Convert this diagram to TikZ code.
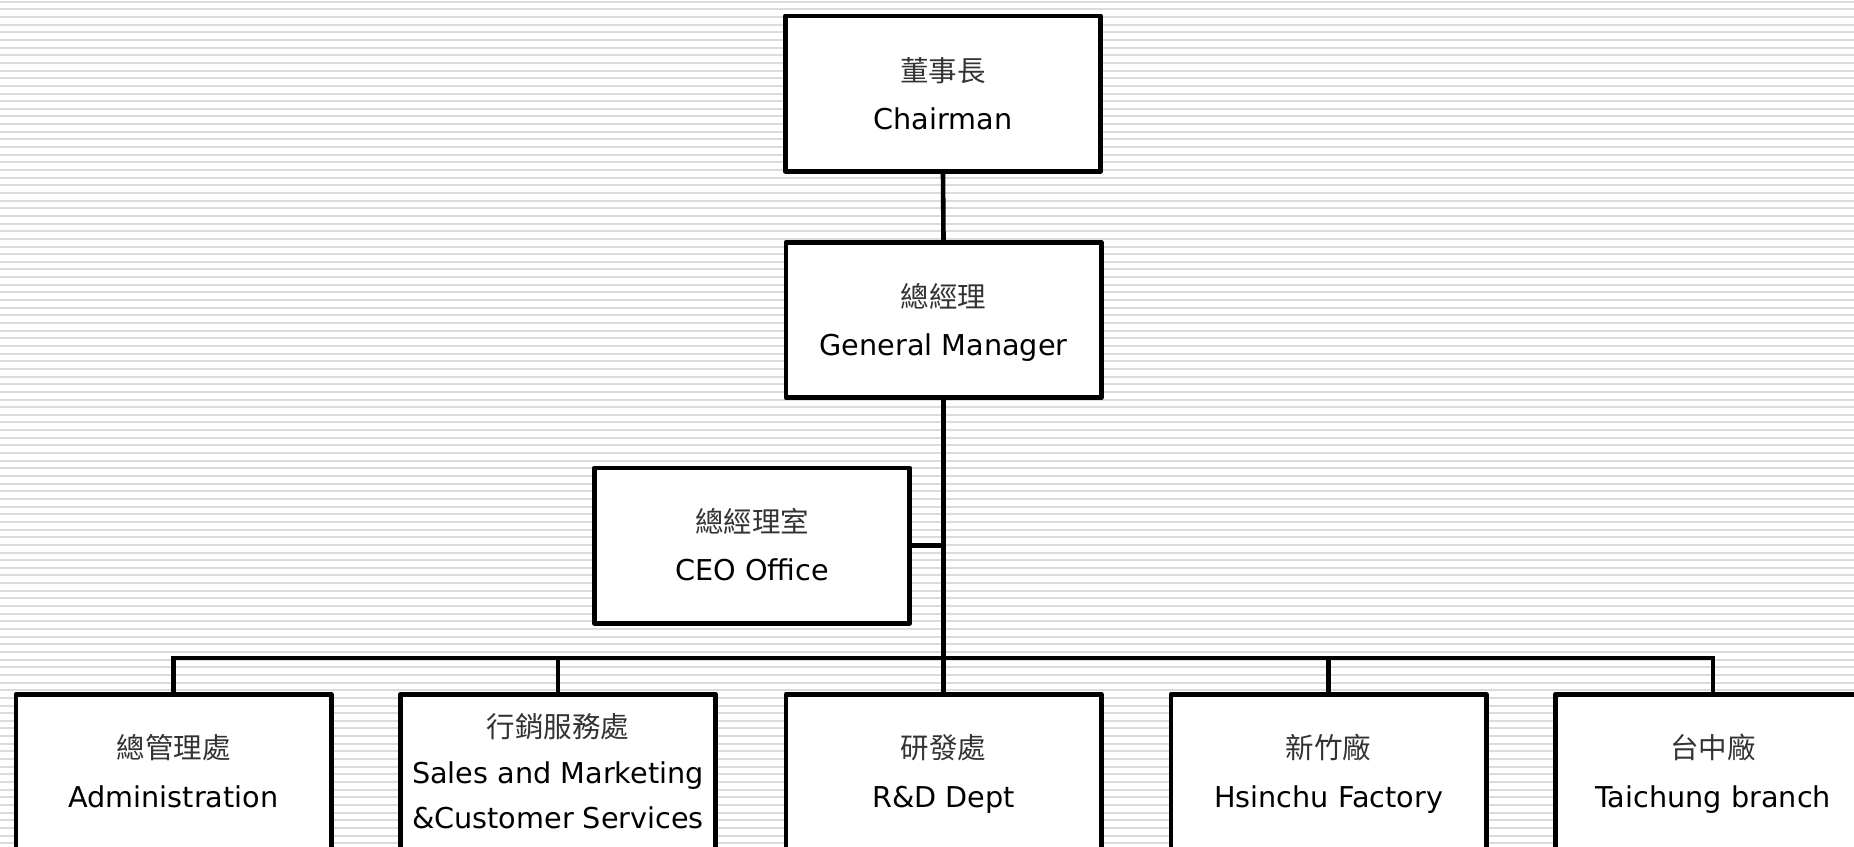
\documentclass[tikz,border=0pt]{standalone}
\usepackage{fontspec}
\setmainfont{DejaVu Sans}
\newfontfamily\cjk{Noto Sans CJK TC}
\usetikzlibrary{calc}
\tikzset{
  stripe/.style={draw=black!14, line width=2pt},
  orgbox/.style={draw=black, fill=white, line width=4.6pt, rectangle, minimum width=315.4pt, minimum height=155.4pt, inner sep=0pt, line join=round},
  conn/.style={draw=black, line width=4.6pt, line join=miter},
  cn/.style={anchor=base, inner sep=0pt, font=\cjk\fontsize{28.5}{34}\selectfont, text=black!80},
  en/.style={anchor=base, inner sep=0pt, font=\fontsize{28.7}{34}\selectfont, text=black}
}
\begin{document}
\begin{tikzpicture}[x=1pt, y=-1pt]
\useasboundingbox (0,0) rectangle (1854,846);
\clip (0,0) rectangle (1854,846);
\fill[white] (0,0) rectangle (1854,846);
\foreach \i in {0,...,111} {
  \draw[stripe] (0,{1.7+7.65*\i}) -- (1854,{1.7+7.65*\i});
}
% boxes
\node[orgbox] (chair) at (943,93.5) {};
\node[orgbox] (gm) at (943.5,320) {};
\node[orgbox] (ceo) at (752,545.5) {};
\node[orgbox] (admin) at (173.5,772) {};
\node[orgbox] (sales) at (558,772) {};
\node[orgbox] (rd) at (943.5,772) {};
\node[orgbox] (hsin) at (1328.5,772) {};
\node[orgbox] (taic) at (1713,772) {};
% connectors
\coordinate (busL) at (173.5,658);
\draw[conn] (chair.south) -- (gm.north);
\draw[conn] (gm.south) -- (rd.north);
\draw[conn] (ceo.east) -- (ceo.east -| gm.south);
\draw[conn] (admin.north) -- (admin.north |- busL) -- (taic.north |- busL) -- (taic.north);
\draw[conn] (sales.north) -- (sales.north |- busL);
\draw[conn] (hsin.north) -- (hsin.north |- busL);
% texts
\node[cn] (chairC) at ($(chair.center)+(0,-12)$) {董事長};
\node[en] (chairE) at ($(chair.center)+(0,36)$) {Chairman};
\node[cn] (gmC) at ($(gm.center)+(0,-13)$) {總經理};
\node[en] (gmE) at ($(gm.center)+(0,35)$) {General Manager};
\node[cn] (ceoC) at ($(ceo.center)+(0,-13)$) {總經理室};
\node[en] (ceoE) at ($(ceo.center)+(0,35)$) {CEO Office};
\node[cn] (adminC) at ($(admin.center)+(0,-14)$) {總管理處};
\node[en] (adminE) at ($(admin.center)+(0,35)$) {Administration};
\node[cn] (salesC) at ($(sales.center)+(0,-35)$) {行銷服務處};
\node[en] (salesE1) at ($(sales.center)+(0,11)$) {Sales and Marketing};
\node[en] (salesE2) at ($(sales.center)+(0,56)$) {\&Customer Services};
\node[cn] (rdC) at ($(rd.center)+(0,-14)$) {研發處};
\node[en] (rdE) at ($(rd.center)+(0,35)$) {R\&D Dept};
\node[cn] (hsinC) at ($(hsin.center)+(0,-14)$) {新竹廠};
\node[en] (hsinE) at ($(hsin.center)+(0,35)$) {Hsinchu Factory};
\node[cn] (taicC) at ($(taic.center)+(0,-14)$) {台中廠};
\node[en] (taicE) at ($(taic.center)+(0,35)$) {Taichung branch};
\end{tikzpicture}
\end{document}
